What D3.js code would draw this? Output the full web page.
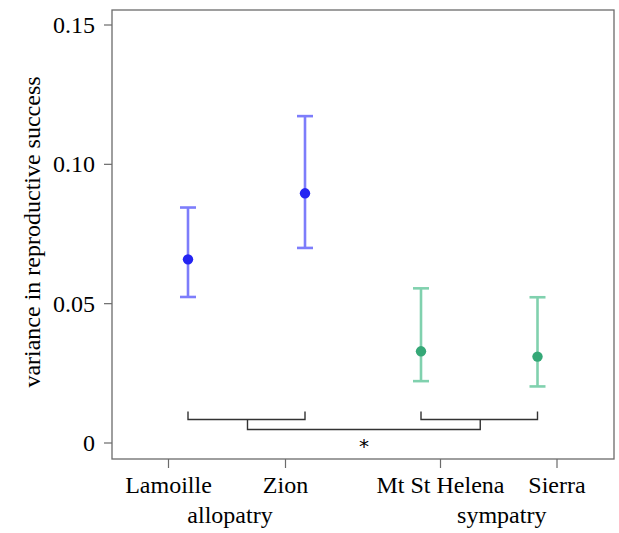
<!DOCTYPE html>
<html>
<head>
<meta charset="utf-8">
<script src="https://cdn.jsdelivr.net/npm/d3@7"></script>
<style>
  body { margin: 0; background: #fff; }
</style>
</head>
<body>
<svg width="619" height="533"></svg>
<script>
const svg = d3.select("svg");
const SERIF = "Liberation Serif";

// Data
const sites = ["Lamoille", "Zion", "Mt St Helena", "Sierra"];
const groups = ["allopatry", "allopatry", "sympatry", "sympatry"];
const means = [0.0659, 0.0896, 0.0329, 0.0310];
const lower = [0.0524, 0.0700, 0.0222, 0.0203];
const upper = [0.0845, 0.1173, 0.0555, 0.0523];
const yTicks = [0, 0.05, 0.10, 0.15];
const yTickLabels = ["0", "0.05", "0.10", "0.15"];

// Layout
const mLeft = 112, mRight = 614, mTop = 10, mBottom = 459;

// Scales
const xPos = d3.scaleOrdinal().domain(sites).range([168.5, 285.5, 440.5, 557]);
const dodge = d => (groups[sites.indexOf(d)] === "allopatry" ? 19.5 : -19.5);

const y = d3.scaleLinear().domain([0, 0.15]).range([443, 25]);

const colorDot = d3.scaleOrdinal().domain(["allopatry", "sympatry"]).range(["#2424f2", "#35a877"]);
const colorBar = d3.scaleOrdinal().domain(["allopatry", "sympatry"]).range(["#7d7dfb", "#80d1ae"]);

// Frame
svg.append("rect")
  .attr("x", mLeft).attr("y", mTop)
  .attr("width", mRight - mLeft).attr("height", mBottom - mTop)
  .attr("fill", "none").attr("stroke", "#6b6b6b").attr("stroke-width", 1.3);

// Y axis
const yAxis = svg.append("g");
yAxis.selectAll("line").data(yTicks).join("line")
  .attr("x1", mLeft - 8).attr("x2", mLeft)
  .attr("y1", d => y(d)).attr("y2", d => y(d))
  .attr("stroke", "#6b6b6b").attr("stroke-width", 1.2);
yAxis.selectAll("text").data(yTicks).join("text")
  .attr("x", 95).attr("y", d => y(d) + 8)
  .attr("text-anchor", "end")
  .attr("font-family", SERIF)
  .attr("font-size", 24)
  .text((d, i) => yTickLabels[i]);

svg.append("text")
  .attr("transform", `translate(40,232) rotate(-90)`)
  .attr("text-anchor", "middle")
  .attr("font-family", SERIF)
  .attr("font-size", 24)
  .text("variance in reproductive success");

// X axis
const xAxis = svg.append("g");
xAxis.selectAll("line").data(sites).join("line")
  .attr("x1", d => xPos(d)).attr("x2", d => xPos(d))
  .attr("y1", mBottom).attr("y2", mBottom + 9)
  .attr("stroke", "#6b6b6b").attr("stroke-width", 1.2);
xAxis.selectAll("text").data(sites).join("text")
  .attr("x", d => xPos(d)).attr("y", 493)
  .attr("text-anchor", "middle")
  .attr("font-family", SERIF)
  .attr("font-size", 24)
  .text(d => d);

const groupNames = ["allopatry", "sympatry"];
svg.selectAll(".grp").data(groupNames).join("text")
  .attr("class", "grp")
  .attr("x", g => d3.mean(sites.filter((s, i) => groups[i] === g), s => xPos(s)) + 3)
  .attr("y", 523)
  .attr("text-anchor", "middle")
  .attr("font-family", SERIF)
  .attr("font-size", 24)
  .text(g => g);

// Error bars
const bars = svg.append("g").selectAll("g").data(sites).join("g");
bars.append("line")
  .attr("x1", (d) => xPos(d) + dodge(d)).attr("x2", (d) => xPos(d) + dodge(d))
  .attr("y1", (d, i) => y(lower[i])).attr("y2", (d, i) => y(upper[i]))
  .attr("stroke", (d, i) => colorBar(groups[i])).attr("stroke-width", 2.6);
[lower, upper].forEach(arr => {
  bars.append("line")
    .attr("x1", d => xPos(d) + dodge(d) - 8).attr("x2", d => xPos(d) + dodge(d) + 8)
    .attr("y1", (d, i) => y(arr[i])).attr("y2", (d, i) => y(arr[i]))
    .attr("stroke", (d, i) => colorBar(groups[i])).attr("stroke-width", 2.6);
});
bars.append("circle")
  .attr("cx", d => xPos(d) + dodge(d))
  .attr("cy", (d, i) => y(means[i]))
  .attr("r", 5.2)
  .attr("fill", (d, i) => colorDot(groups[i]));

// Significance brackets
const pairA = sites.slice(0, 2).map(s => xPos(s) + dodge(s));
const pairB = sites.slice(2).map(s => xPos(s) + dodge(s));
const bracket = (x1, x2, yb, h) =>
  `M${x1},${yb - h}V${yb}H${x2}V${yb - h}`;
const br = svg.append("g").attr("fill", "none").attr("stroke", "#333").attr("stroke-width", 1.4);
br.append("path").attr("d", bracket(pairA[0], pairA[1], 419.5, 8));
br.append("path").attr("d", bracket(pairB[0], pairB[1], 419.5, 8));
br.append("path").attr("d", bracket(d3.mean(pairA) + 1, d3.mean(pairB) + 1, 429.5, 10));
svg.append("text")
  .attr("x", (d3.mean(pairA) + d3.mean(pairB)) / 2 + 1).attr("y", 453)
  .attr("text-anchor", "middle")
  .attr("font-family", "DejaVu Sans")
  .attr("font-size", 20)
  .text("*");
</script>
</body>
</html>
